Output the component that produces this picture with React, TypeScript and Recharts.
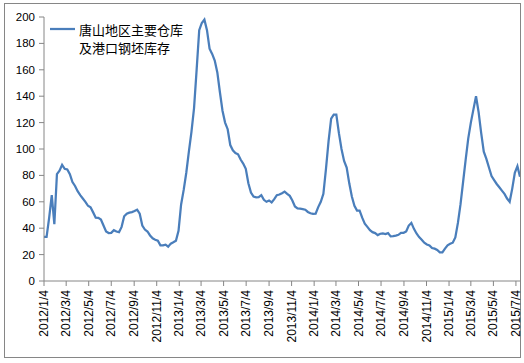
import { LineChart, Line, XAxis, YAxis, Legend } from "recharts";

// weekly readings, first week 2012/1/4
const startDate = "2012/1/4";

const weeks2012 = [
  33.5, 33.5, 48, 65, 43, 81, 83.5, 88, 85, 84.5, 81, 75, 72, 68, 65, 62.5, 60,
  57, 55.8, 52, 48, 47.8, 46.5, 42, 37.5, 36.3, 36.5, 38.5, 37.5, 37, 41, 49, 51,
  51.8, 52.2, 53, 54, 51, 42, 39, 37.5, 34.5, 32.3, 31.3, 30.5, 27, 27, 27.5, 26,
  28.3, 29.3, 30.5,
];
const weeks2013 = [
  38, 58, 69, 82, 98, 113, 131, 160, 190, 195.5, 198, 190, 176, 172, 167, 158,
  143, 129, 120, 115, 103, 99, 97, 96, 92, 89, 85, 74, 67, 64, 63.4, 63.5, 65,
  61.5, 60, 61, 59.5, 62, 65, 65.5, 66.5, 67.7, 66, 64.5, 61, 56.5, 55, 54.8,
  54.5, 54, 52.3, 51.3,
];
const weeks2014 = [
  50.8, 51, 56, 60, 66, 85, 106, 123, 126, 126, 112, 100, 91, 86, 74, 64, 57,
  53.3, 53.3, 48, 43.5, 41, 38.5, 37, 36.3, 34.8, 35.8, 36, 35.5, 36.3, 33.8, 34,
  34.4, 35, 36.5, 36.5, 37.5, 42, 44, 39.5, 36, 33.3, 31.3, 29, 27.7, 27, 25,
  24.5, 23.5, 21.7, 21.7, 24.5,
];
const weeks2015 = [
  27, 28.2, 29, 33, 44, 58, 75, 92, 108, 120, 130, 140, 128, 112, 98, 92.5, 86,
  79.5, 76.5, 73.5, 71, 68.5, 66, 62.5, 60, 70, 82, 87, 79,
];

const xTickLabels = [
  "2012/1/4", "2012/3/4", "2012/5/4", "2012/7/4", "2012/9/4", "2012/11/4",
  "2013/1/4", "2013/3/4", "2013/5/4", "2013/7/4", "2013/9/4", "2013/11/4",
  "2014/1/4", "2014/3/4", "2014/5/4", "2014/7/4", "2014/9/4", "2014/11/4",
  "2015/1/4", "2015/3/4", "2015/5/4", "2015/7/4",
];
const yTicks = [0, 20, 40, 60, 80, 100, 120, 140, 160, 180, 200];

const legendLines = ["唐山地区主要仓库", "及港口钢坯库存"];
const lineColor = "#4A7EBB";
const axisColor = "#868686";
const font = "'Liberation Sans', Arial, sans-serif";

const toDay = (s: string) => {
  const [y, m, d] = s.split("/").map(Number);
  return Date.UTC(y, m - 1, d) / 86400000;
};

const values = [...weeks2012, ...weeks2013, ...weeks2014, ...weeks2015];
const start = toDay(startDate);
const data = values.map((v, i) => ({ day: start + i * 7, stock: v }));
const xTicks = xTickLabels.map(toDay);

const DateTick = ({ x, y, payload }: any) => {
  const label = xTickLabels[xTicks.indexOf(payload.value)];
  const ty = y + 2;
  return (
    <text
      x={x}
      y={ty}
      transform={`rotate(-90 ${x} ${ty})`}
      textAnchor="end"
      dominantBaseline="central"
      fontSize={12}
      fontFamily={font}
      fill="#000"
    >
      {label}
    </text>
  );
};

const LegendBox = () => (
  <svg width={160} height={42}>
    <line x1={2} y1={11} x2={27} y2={11} stroke={lineColor} strokeWidth={2.25} />
    {legendLines.map((t, i) => (
      <text
        key={i}
        x={31}
        y={11 + i * 18}
        dominantBaseline="central"
        fontSize={13}
        fontFamily="'Noto Sans CJK SC', sans-serif"
        fill="#000"
      >
        {t}
      </text>
    ))}
  </svg>
);

export default function App() {
  return (
    <div
      style={{
        position: "absolute",
        left: 0,
        top: 0,
        width: 524,
        height: 363,
        background: "#fff",
      }}
    >
      {/* chart frame */}
      <div
        style={{
          position: "absolute",
          left: 4,
          top: 3,
          width: 517,
          height: 355,
          boxSizing: "border-box",
          border: `1px solid ${axisColor}`,
        }}
      />
      <LineChart
        width={521}
        height={363}
        data={data}
        margin={{ top: 17, right: 1, left: 0, bottom: 0 }}
      >
        <XAxis
          dataKey="day"
          type="number"
          domain={[start, data[data.length - 1].day]}
          ticks={xTicks}
          interval={0}
          height={82}
          tick={<DateTick />}
          tickSize={5}
          stroke={axisColor}
          allowDataOverflow
        />
        <YAxis
          domain={[0, 200]}
          ticks={yTicks}
          width={44}
          tickSize={5}
          tickMargin={4}
          stroke={axisColor}
          tick={{ fontSize: 11.5, fill: "#000", fontFamily: font }}
        />
        <Legend
          verticalAlign="middle"
          layout="horizontal"
          wrapperStyle={{ left: 48, top: 18, width: 160 }}
          content={<LegendBox />}
        />
        <Line
          dataKey="stock"
          name="唐山地区主要仓库及港口钢坯库存"
          stroke={lineColor}
          strokeWidth={2.25}
          dot={false}
          isAnimationActive={false}
        />
      </LineChart>
    </div>
  );
}
